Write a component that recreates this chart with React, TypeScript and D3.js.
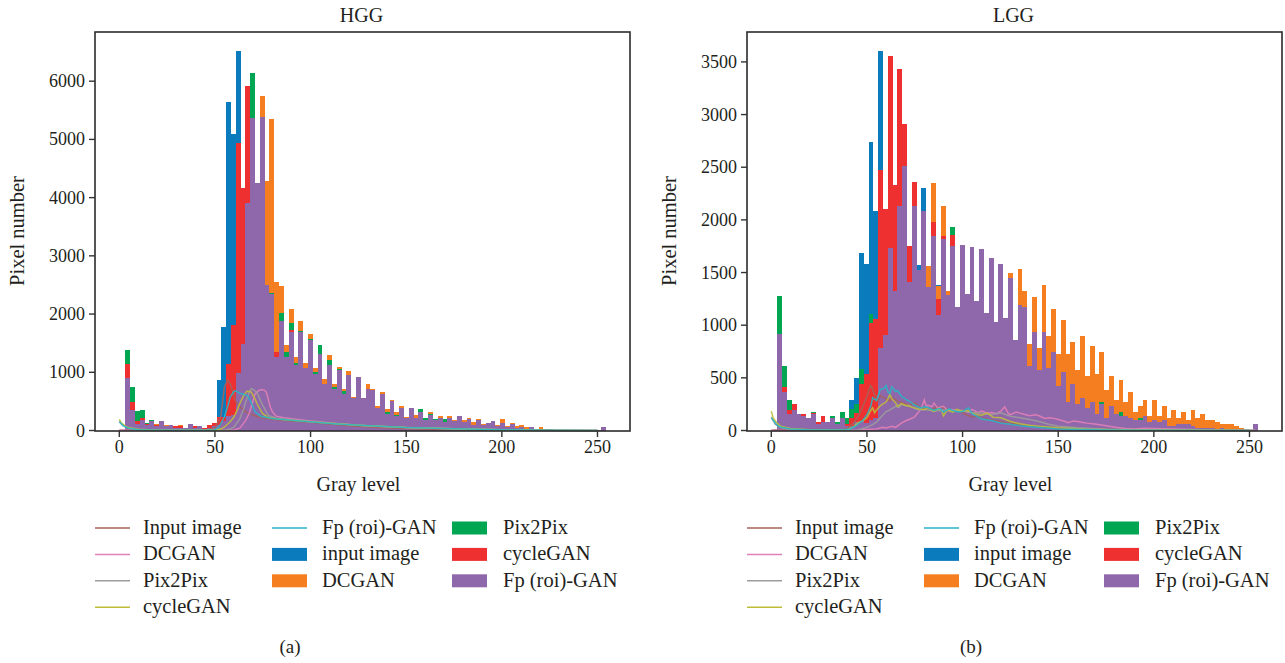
import * as d3 from "d3";

const BIN_START = 3.13; // histogram bins run from about 3 to 254
const BIN_WIDTH = 2.513;

const seriesNames = ["Input image", "DCGAN", "Pix2Pix", "cycleGAN", "Fp (roi)-GAN"];
const histNames = ["input image", "DCGAN", "Pix2Pix", "cycleGAN", "Fp (roi)-GAN"];
const barColors = ["#0a7cbd", "#f57e20", "#00a651", "#ee3030", "#8f68ab"];
const lineColors = ["#a5635c", "#e27fb6", "#9c9c9c", "#bdbd3a", "#2ab5c5"];
const xTicks = [0, 50, 100, 150, 200, 250];
const hggYTicks = [0, 1000, 2000, 3000, 4000, 5000, 6000];
const lggYTicks = [0, 500, 1000, 1500, 2000, 2500, 3000, 3500];

// HGG histograms, in draw order
const hggInput = [700,250,80,120,70,110,60,100,60,70,30,40,35,70,40,50,20,40,90,865,1778,5640,5090,6520,4000,4200,4000,3500,3500,2300,2000,1100,1300,1000,1400,950,1300,900,1200,850,1050,700,950,650,850,580,780,520,720,480,600,560,350,500,250,420,220,340,190,320,180,270,160,230,160,200,120,190,130,200,130,170,80,150,80,110,140,70,110,50,100,30,45,18,45,18,18,18,18,9,4,4,3,3,2,2,1,1,1,40];
const hggDcgan = [800,300,90,150,100,150,105,140,90,90,30,95,40,95,40,70,20,40,60,80,130,300,600,1800,2800,4500,5000,4200,5740,4290,5350,2550,2480,1470,2090,1260,1880,1160,1660,1075,1300,882,1294,807,1088,710,1019,572,900,545,796,710,418,659,367,521,315,418,229,380,263,300,170,315,180,246,140,246,178,240,178,212,143,195,109,120,155,92,195,75,126,75,92,57,55,22,57,22,22,11,5,5,4,3,3,2,2,1,1,45];
const hggPix = [1380,745,330,350,137,178,80,150,70,90,30,45,40,100,45,70,20,40,60,90,150,400,900,3000,4000,5000,6140,4000,5000,2300,2360,1200,2020,1350,1850,1160,1710,1050,1570,1000,1470,780,1208,740,1048,675,940,550,900,540,700,690,380,620,315,500,263,390,215,370,210,367,212,281,195,220,195,220,155,240,140,190,90,175,90,120,155,75,120,55,110,38,55,22,55,22,22,20,20,10,5,5,4,3,3,2,2,1,1,45];
const hggCycle = [1145,490,160,210,120,170,95,150,75,95,75,85,40,100,75,70,40,97,125,224,224,1150,1810,4940,4167,5920,5000,3900,4800,2200,2100,1350,1500,1150,1725,1050,1500,1000,1400,900,1200,750,1000,680,950,600,900,520,850,510,680,650,370,600,270,480,240,380,200,360,200,300,170,250,175,210,130,210,150,230,135,180,85,170,85,120,150,75,120,55,110,35,50,20,50,20,20,20,20,10,5,5,4,3,3,2,2,1,1,50];
const hggFp = [905,350,110,180,90,165,85,160,80,100,35,50,45,110,50,75,23,45,80,100,170,246,260,980,1490,3910,5370,4250,5385,2500,2340,1260,1880,1260,1690,1125,1700,1070,1550,970,1310,800,1125,705,1036,635,950,555,916,550,710,693,384,624,281,504,246,395,218,384,212,315,178,263,183,223,143,223,160,246,143,195,92,178,92,126,160,80,126,57,115,40,57,23,57,23,23,23,23,11,5,5,4,3,3,2,2,1,1,55];

// LGG histograms, in draw order
const lggInput = [600,280,120,130,100,90,80,110,50,60,50,80,45,90,40,285,494,1681,1577,2740,2085,3604,1900,2000,1300,2000,2200,1350,2000,1567,2302,1300,1750,1377,1750,1200,1650,1100,1600,1200,1600,1150,1600,1050,1500,980,1450,1000,1300,800,1100,1050,560,850,520,850,530,680,380,500,240,400,220,280,190,240,140,220,110,210,130,120,110,100,90,90,110,65,80,70,80,40,30,50,45,45,40,15,20,15,15,9,15,7,4,2,1,0,0,45];
const lggDcgan = [700,300,140,160,120,110,90,130,55,70,60,90,50,100,40,40,80,120,180,300,450,800,1000,1500,1300,1900,2200,1350,1900,1400,1900,1558,2350,1368,2130,1320,1700,1149,1700,1250,1650,1200,1680,1100,1600,1000,1550,1050,1491,850,1529,1320,826,1263,788,1377,893,1149,731,1054,722,836,579,893,513,807,532,750,380,522,285,484,275,370,171,237,285,133,285,133,228,114,199,114,171,104,190,114,152,95,104,76,66,66,66,38,28,2,0,40];
const lggPix = [1273,608,285,170,140,120,100,171,60,70,65,133,76,171,114,200,250,580,541,1102,900,1500,1200,2000,1300,2000,2300,1350,2000,1450,1950,1300,1750,1050,1750,1240,1931,1130,1700,1250,1680,1180,1650,1070,1580,990,1500,1030,1400,830,1130,1120,580,900,550,890,560,720,400,530,250,420,230,300,200,250,155,275,115,225,145,171,125,115,100,114,125,70,90,80,90,45,35,60,50,50,45,18,25,18,18,10,18,8,4,2,1,0,0,50];
const lggCycle = [800,412,190,247,150,161,110,165,85,133,85,110,55,123,57,120,170,437,532,1022,1060,2477,2103,3556,2330,3432,2910,1748,2360,1500,2000,1300,1980,1244,1843,1250,1856,1150,1700,1250,1700,1180,1650,1080,1580,1000,1500,1050,1400,840,1150,1120,590,900,550,900,560,720,400,530,250,420,230,300,200,250,150,230,115,220,140,130,125,115,95,95,125,70,90,80,90,45,35,60,50,50,45,18,25,18,18,10,18,8,4,2,1,1,0,50];
const lggFp = [921,361,161,190,161,142,114,152,66,85,76,114,57,114,47,40,85,90,70,100,120,788,911,1729,1323,2130,2512,1406,2130,1520,2085,1358,1847,1092,1814,1282,1748,1168,1757,1292,1738,1225,1719,1111,1634,1026,1577,1073,1444,864,1187,1168,608,940,579,931,589,750,427,560,266,446,247,313,209,266,161,247,123,237,152,142,133,123,104,104,133,76,95,85,95,47,38,66,57,57,47,19,28,19,19,12,19,9,5,3,2,1,0,57];

// density curves as [gray level, pixel count]
type Pt = [number, number];
const hggInputLine: Pt[] = [[0,5],[10,3],[30,2],[45,8],[48,30],[50,45],[53,235],[54,500],[55,750],[56.6,865],[58,800],[59,700],[61,490],[63,410],[64,380],[66,320],[68,290],[70,265],[72,240],[75,220],[80,195],[90,165],[100,140],[110,110],[120,80],[135,50],[150,30],[175,15],[200,5],[225,2],[250,0]];
const hggDcganLine: Pt[] = [[0,3],[30,2],[58,5],[60,10],[63,40],[66,170],[68,300],[70,520],[71,630],[73,690],[74.5,705],[76,690],[77,650],[78,520],[79,400],[80,320],[82,246],[86,220],[90,200],[100,165],[112,125],[125,90],[137,70],[150,50],[175,30],[200,15],[225,2],[250,0]];
const hggPixLine: Pt[] = [[0,160],[2,90],[5,40],[10,15],[30,4],[55,5],[58,25],[60,60],[63,200],[65,370],[66,480],[68,660],[69,720],[71,680],[72,650],[74,500],[75,430],[77,310],[78,260],[82,210],[90,180],[100,150],[112,120],[125,90],[150,50],[175,28],[200,12],[225,3],[250,0]];
const hggCycleLine: Pt[] = [[0,190],[1,130],[3,80],[5,50],[10,20],[20,6],[40,3],[50,5],[53,25],[55,60],[58,150],[60,235],[62,380],[63,464],[65,600],[66.7,675],[68,670],[69,660],[71,540],[72,464],[74,340],[75,290],[78,220],[85,190],[100,150],[112,120],[125,92],[150,50],[175,28],[200,12],[225,3],[250,0]];
const hggFpLine: Pt[] = [[0,150],[2,80],[5,40],[10,15],[20,5],[45,5],[50,10],[52,60],[55,235],[57,450],[58,578],[60,670],[60.8,680],[63,640],[65,624],[67,600],[68,550],[70,400],[71,320],[74,246],[80,205],[90,175],[100,150],[112,118],[125,90],[150,50],[175,30],[200,12],[225,3],[250,0]];

const lggInputLine: Pt[] = [[0,2],[2,5],[20,3],[38,10],[40,20],[43,70],[45,120],[47,190],[49,280],[50,326],[51,380],[52,427],[53,390],[54,340],[56,280],[57,332],[59,310],[60,300],[62,280],[63,310],[65,290],[67,270],[70,255],[72,240],[75,263],[77,230],[80,210],[84,205],[87,225],[90,215],[93,195],[97,190],[100,168],[103,140],[105,130],[108,135],[110,120],[115,100],[120,85],[125,70],[135,45],[150,20],[175,8],[200,2],[250,0]];
const lggDcganLine: Pt[] = [[0,1],[45,3],[50,10],[55,15],[58,30],[60,25],[63,40],[65,30],[68,70],[70,90],[72,105],[75,130],[77,175],[78,200],[79,240],[80,290],[81,230],[82,240],[84,225],[85,260],[87,215],[88,220],[90,230],[92,195],[95,200],[98,185],[100,190],[103,175],[105,200],[108,170],[110,185],[113,165],[115,170],[118,160],[120,184],[122,225],[124,160],[125,150],[128,175],[130,165],[133,150],[135,140],[138,150],[140,140],[143,115],[145,120],[148,115],[150,105],[153,90],[155,75],[158,90],[160,85],[163,75],[165,70],[168,65],[170,60],[175,45],[180,30],[185,20],[190,15],[195,22],[200,20],[210,15],[225,8],[240,2],[253,0]];
const lggPixLine: Pt[] = [[0,130],[2,60],[5,25],[10,10],[30,3],[45,5],[50,30],[53,55],[55,80],[58,140],[60,180],[62,195],[65,230],[67,220],[68,250],[70,235],[72,240],[75,205],[78,195],[80,200],[85,185],[90,195],[95,185],[100,190],[105,170],[110,165],[115,150],[120,168],[125,135],[130,120],[135,105],[140,85],[145,60],[150,40],[160,25],[175,12],[200,5],[225,2],[253,5]];
const lggCycleLine: Pt[] = [[0,184],[1,120],[3,70],[5,40],[10,20],[20,8],[35,5],[40,10],[43,35],[45,70],[48,95],[50,120],[52,190],[53,215],[54,170],[55,195],[57,235],[58,247],[60,270],[61,300],[62,342],[63,300],[65,263],[66,230],[68,256],[70,240],[72,231],[75,215],[77,205],[80,200],[82,215],[85,180],[87,205],[89,190],[90,140],[92,195],[95,175],[97,200],[100,184],[103,190],[105,165],[108,150],[110,145],[113,165],[116,125],[120,120],[125,85],[130,65],[135,50],[140,40],[150,25],[165,12],[190,5],[225,2],[250,0]];
const lggFpLine: Pt[] = [[0,120],[3,50],[5,30],[10,15],[20,5],[38,5],[41,15],[44,40],[48,100],[50,150],[52,230],[53,310],[55,285],[57,390],[59,400],[60,427],[61,365],[62,350],[63,415],[65,370],[66,380],[68,325],[70,300],[72,280],[75,240],[78,215],[81,225],[85,190],[88,210],[90,175],[93,205],[95,190],[98,175],[100,180],[103,215],[105,160],[108,130],[110,110],[115,95],[120,70],[125,60],[130,45],[140,28],[150,15],[175,5],[200,2],[250,0]];

const HEIGHT = 663;
const fontFamily = '"Liberation Serif", serif';
const textColor = "#231f20";

function Panel({ left, right, yMax, title, yTicks, bars, lines, caption }: any) {
  const top = 32;
  const bottom = 431;
  const x = d3.scaleLinear().domain([-12.7, 267]).range([left, right]);
  const y = d3.scaleLinear().domain([0, yMax]).range([430.5, top]);
  const line = d3.line<Pt>().x((d) => x(d[0])).y((d) => y(d[1]));
  const mid = (left + right) / 2;
  const dx = left - 95; // the second panel's legend is the first one shifted

  return (
    <g fontFamily={fontFamily} fill={textColor}>
      {bars.map((vals: number[], s: number) => (
        <g key={s} fill={barColors[s]} shapeRendering="crispEdges">
          {vals.map((v, i) => (
            <rect
              key={i}
              x={x(BIN_START + i * BIN_WIDTH)}
              width={x(BIN_START + (i + 1) * BIN_WIDTH) - x(BIN_START + i * BIN_WIDTH)}
              y={y(v)}
              height={y(0) - y(v)}
            />
          ))}
        </g>
      ))}
      {lines.map((pts: Pt[], s: number) => (
        <path key={s} d={line(pts) || ""} fill="none" stroke={lineColors[s]} strokeWidth={1.5} strokeOpacity={0.9} />
      ))}
      <rect x={left} y={top} width={right - left} height={bottom - top} fill="none" stroke="#2b2b2b" strokeWidth={1.6} />
      {xTicks.map((t) => (
        <g key={t}>
          <line x1={x(t)} x2={x(t)} y1={bottom} y2={bottom + 6} stroke="#333" strokeWidth={1.4} />
          <text x={x(t)} y={bottom + 22} textAnchor="middle" fontSize={18}>{t}</text>
        </g>
      ))}
      {yTicks.map((t: number) => (
        <g key={t}>
          <line x1={left - 6} x2={left} y1={y(t)} y2={y(t)} stroke="#333" strokeWidth={1.4} />
          <text x={left - 10} y={y(t) + 6} textAnchor="end" fontSize={18}>{t}</text>
        </g>
      ))}
      <text x={mid - 1} y={22} textAnchor="middle" fontSize={20}>{title}</text>
      <text x={mid - 4} y={491} textAnchor="middle" fontSize={20}>Gray level</text>
      <text transform={`translate(${left - 71},231) rotate(-90)`} textAnchor="middle" fontSize={20.5}>Pixel number</text>
      {seriesNames.map((name, s) => {
        const col = s < 4 ? 0 : 1;
        const row = s < 4 ? s : 0;
        const lx = (col ? 272 : 95) + dx;
        const ly = 528 + row * 26.4;
        return (
          <g key={name}>
            <line x1={lx} x2={lx + 35} y1={ly} y2={ly} stroke={lineColors[s]} strokeWidth={1.5} />
            <text x={lx + (col ? 50 : 48)} y={ly + 6} fontSize={20.5}>{name}</text>
          </g>
        );
      })}
      {histNames.map((name, s) => {
        const col = s < 2 ? 1 : 2;
        const row = s < 2 ? s + 1 : s - 2;
        const lx = (col === 1 ? 272 : 452) + dx;
        const ly = 528 + row * 26.4;
        return (
          <g key={name}>
            <rect x={lx} y={ly - 6.5} width={35} height={13} fill={barColors[s]} />
            <text x={lx + (col === 1 ? 50 : 51)} y={ly + 6} fontSize={20.5}>{name}</text>
          </g>
        );
      })}
      <text x={caption} y={653} textAnchor="middle" fontSize={19}>{left < 500 ? "(a)" : "(b)"}</text>
    </g>
  );
}

export default function App() {
  return (
    <svg width={1285} height={HEIGHT} style={{ position: "absolute", left: 0, top: 0, background: "#fff" }}>
      <Panel
        left={95}
        right={630}
        yMax={6845}
        title="HGG"
        yTicks={hggYTicks}
        bars={[hggInput, hggDcgan, hggPix, hggCycle, hggFp]}
        lines={[hggInputLine, hggDcganLine, hggPixLine, hggCycleLine, hggFpLine]}
        caption={290}
      />
      <Panel
        left={747}
        right={1282}
        yMax={3784}
        title="LGG"
        yTicks={lggYTicks}
        bars={[lggInput, lggDcgan, lggPix, lggCycle, lggFp]}
        lines={[lggInputLine, lggDcganLine, lggPixLine, lggCycleLine, lggFpLine]}
        caption={971}
      />
    </svg>
  );
}
